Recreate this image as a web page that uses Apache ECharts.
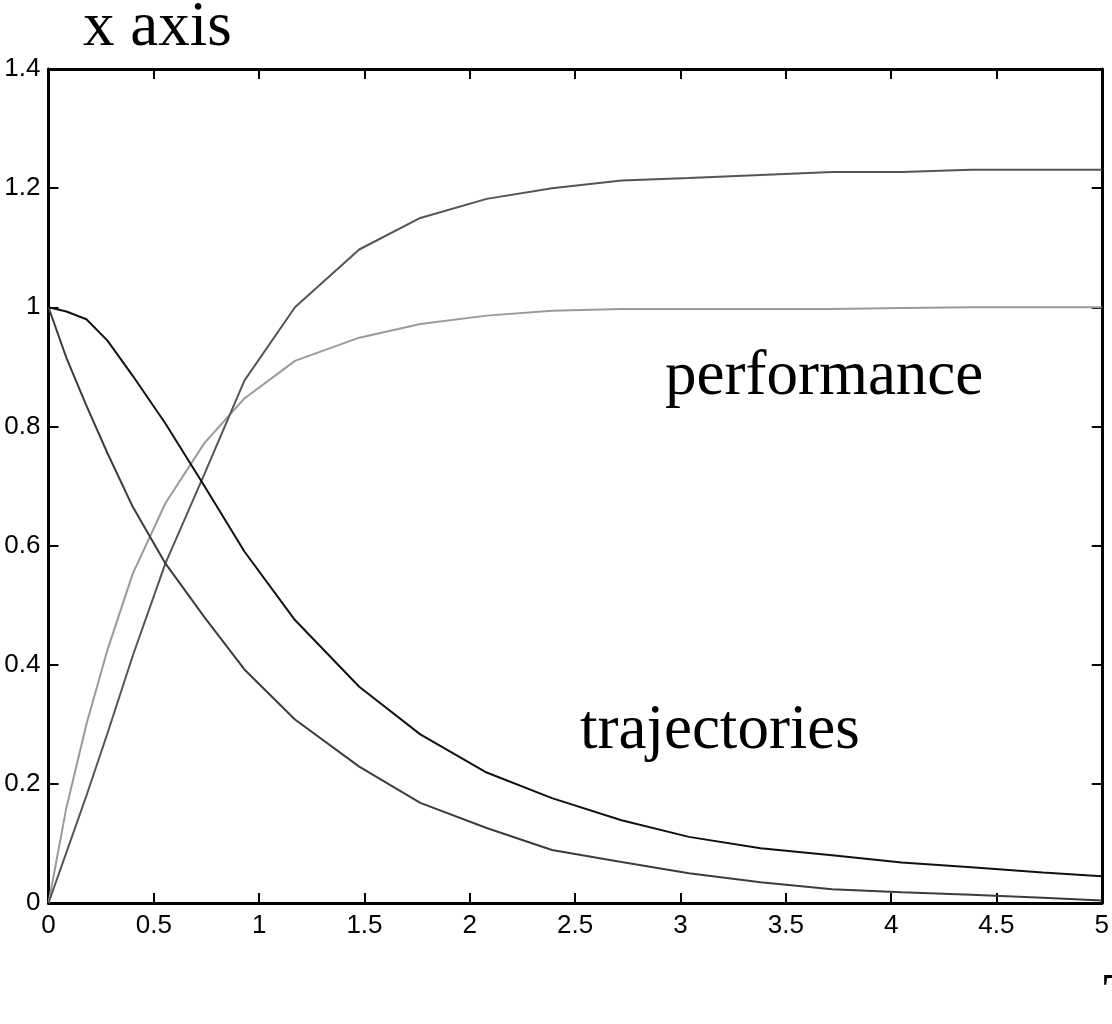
<!DOCTYPE html>
<html>
<head>
<meta charset="utf-8">
<script src="https://cdn.jsdelivr.net/npm/echarts@6/dist/echarts.min.js"></script>
<style>
html,body{margin:0;padding:0;background:#fff;}
#chart{width:1112px;height:1024px;}
</style>
</head>
<body>
<div id="chart"></div>
<script>
// sample times
var tValues = [0, 0.085, 0.18, 0.28, 0.40, 0.555, 0.74, 0.93, 1.17, 1.475, 1.765, 2.08, 2.39, 2.72, 3.04, 3.38, 3.72, 4.05, 4.38, 4.72, 5.0];
// performance curves
var perfUpper = [0, 0.085, 0.18, 0.285, 0.415, 0.57, 0.72, 0.877, 1.0, 1.097, 1.15, 1.182, 1.2, 1.213, 1.217, 1.222, 1.227, 1.227, 1.231, 1.231, 1.231];
var perfLower = [0, 0.16, 0.30, 0.425, 0.553, 0.671, 0.772, 0.847, 0.910, 0.949, 0.972, 0.986, 0.994, 0.997, 0.997, 0.997, 0.997, 0.999, 1.0, 1.0, 1.0];
// trajectories
var trajUpper = [1.0, 0.993, 0.980, 0.944, 0.885, 0.805, 0.70, 0.590, 0.475, 0.363, 0.283, 0.219, 0.176, 0.139, 0.111, 0.092, 0.080, 0.068, 0.060, 0.051, 0.045];
var trajLower = [1.0, 0.915, 0.835, 0.755, 0.665, 0.570, 0.480, 0.392, 0.308, 0.229, 0.168, 0.126, 0.089, 0.069, 0.050, 0.035, 0.023, 0.018, 0.014, 0.009, 0.004];
// axis ticks
var xTicks = {min: 0, max: 5, interval: 0.5};
var yTicks = {min: 0, max: 1.4, interval: 0.2};
// texts
var titleText = 'x axis';
var perfLabel = 'performance';
var trajLabel = 'trajectories';
var cornerText = 'T';

function pairs(ys){ return tValues.map(function(t,i){ return [t, ys[i]]; }); }

var chart = echarts.init(document.getElementById('chart'), null, {renderer:'canvas'});
var axisLine = {show:true, onZero:false, lineStyle:{color:'#000', width:3}};
var tick = {show:true, inside:true, length:10, lineStyle:{color:'#000', width:2}};
var lblFont = {fontFamily:'Liberation Sans', fontSize:26, color:'#000'};

function line(ys, color, w){
  return {type:'line', data:pairs(ys), showSymbol:false, symbol:'none', smooth:false,
    lineStyle:{color:color, width:w}, itemStyle:{color:color}, animation:false, z:3};
}

chart.setOption({
  animation:false,
  backgroundColor:'#fff',
  grid:{left:48.5, right:8, top:69, bottom:121, containLabel:false},
  xAxis:[
    {type:'value', position:'bottom', min:xTicks.min, max:xTicks.max, interval:xTicks.interval,
     axisLine:axisLine, axisTick:tick, splitLine:{show:false},
     axisLabel:Object.assign({show:true, margin:10}, lblFont)},
    {type:'value', position:'top', min:xTicks.min, max:xTicks.max, interval:xTicks.interval,
     axisLine:axisLine, axisTick:tick, splitLine:{show:false}, axisLabel:{show:false}}
  ],
  yAxis:[
    {type:'value', position:'left', min:yTicks.min, max:yTicks.max, interval:yTicks.interval,
     axisLine:axisLine, axisTick:tick, splitLine:{show:false},
     axisLabel:Object.assign({show:true, margin:8}, lblFont)},
    {type:'value', position:'right', min:yTicks.min, max:yTicks.max, interval:yTicks.interval,
     axisLine:axisLine, axisTick:tick, splitLine:{show:false}, axisLabel:{show:false}}
  ],
  series:[
    line(perfLower, '#9a9a9a', 2),
    line(perfUpper, '#555555', 2),
    line(trajLower, '#3c3c3c', 2),
    line(trajUpper, '#111111', 2)
  ],
  graphic:[
    {type:'text', x:83, y:28, style:{text:titleText, font:'63px "Liberation Serif"', fill:'#000', textAlign:'left', textVerticalAlign:'middle'}},
    {type:'text', x:665, y:377, style:{text:perfLabel, font:'63px "Liberation Serif"', fill:'#000', textAlign:'left', textVerticalAlign:'middle'}},
    {type:'text', x:580, y:731, style:{text:trajLabel, font:'63px "Liberation Serif"', fill:'#000', textAlign:'left', textVerticalAlign:'middle'}},
    {type:'text', x:1103, y:1000, style:{text:cornerText, font:'63px "Liberation Serif"', fill:'#000', textAlign:'left', textVerticalAlign:'middle'}}
  ]
});
</script>
</body>
</html>
